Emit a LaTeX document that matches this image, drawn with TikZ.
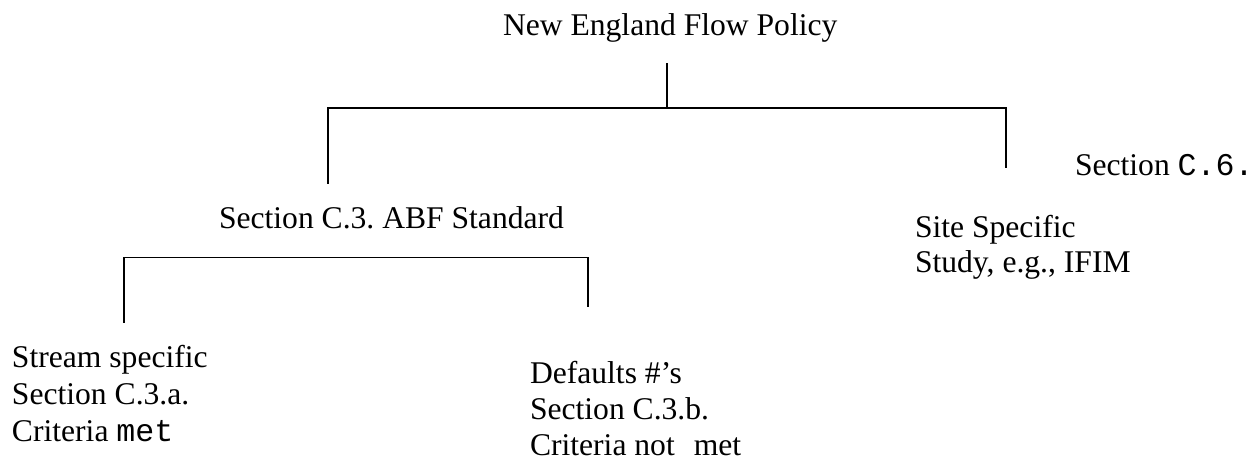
\documentclass[tikz,border=0pt]{standalone}
\usepackage{fontspec}
\setmainfont{Liberation Serif}
\setmonofont{Liberation Mono}
\frenchspacing
\begin{document}
\begin{tikzpicture}[x=1pt,y=-1pt,
  lbl/.style={anchor=base west,inner sep=0pt,outer sep=0pt,
    font=\fontsize{31.6}{36}\selectfont,text=black},
  branch/.style={draw=black,line width=1.5pt,line cap=rect}]
\useasboundingbox (0,0) rectangle (1249,459);

% top level
\node[lbl] (policy) at (503,35) {New England Flow Policy};

% first split
\coordinate (rootTop) at (667,64);
\coordinate (rootMid) at (667,108);
\coordinate (abfTop)  at (328,108);
\coordinate (abfEnd)  at (328,183);
\coordinate (siteTop) at (1006,108);
\coordinate (siteEnd) at (1006,167);
\draw[branch] (rootTop) -- (rootMid);
\draw[branch] (abfEnd) -- (abfTop) -- (siteTop) -- (siteEnd);

\node[lbl] (sec6) at (1075,175) {Section \texttt{C.6.}};

\node[lbl] (abf) at (219,228) {Section C.3. ABF Standard};

\node[lbl] (site1) at (915,237) {Site Specific};
\begin{scope}
  \clip (900,245) rectangle (1249,280);
  \node[lbl] (site2) at (915,272) {Study, e.g., IFIM};
\end{scope}

% second split
\coordinate (streamTop) at (124,257.5);
\coordinate (streamEnd) at (124,322);
\coordinate (defTop)    at (588,257.5);
\coordinate (defEnd)    at (588,306);
\draw[branch] (streamEnd) -- (streamTop) -- (defTop) -- (defEnd);

\node[lbl] (stream1) at (12,367) {Stream specific};
\node[lbl] (stream2) at (12,404) {Section C.3.a.};
\node[lbl] (stream3) at (12,441) {Criteria \texttt{met}};

\node[lbl] (def1) at (530,383) {Defaults \#’s};
\node[lbl] (def2) at (530,419) {Section C.3.b.};
\node[lbl] (def3) at (530,455) {Criteria not\hspace{19pt}met};
\end{tikzpicture}
\end{document}
